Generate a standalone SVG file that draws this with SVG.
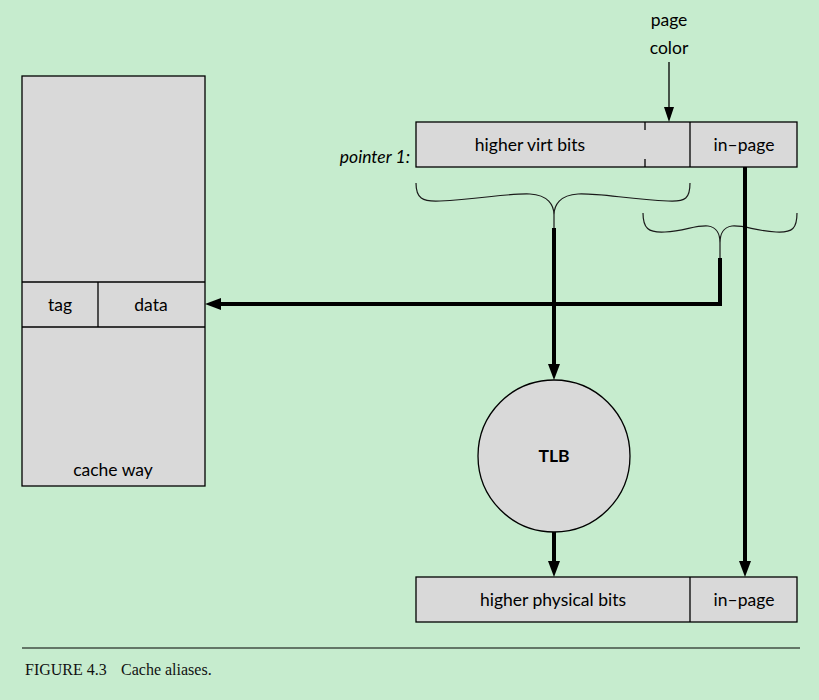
<svg xmlns="http://www.w3.org/2000/svg" width="819" height="700" viewBox="0 0 819 700">
<style>
.box{fill:#d9d9d9;stroke:#000;stroke-width:1.3}
.t{font-family:Lato,"Liberation Sans",sans-serif;font-size:17.5px;fill:#000;text-anchor:middle}
.b{font-weight:bold}
.thin{fill:none;stroke:#1a1a1a;stroke-width:1.2}
.thick{fill:none;stroke:#000;stroke-width:4}
.cap{font-family:"Liberation Serif",serif;font-size:16px;fill:#111}
.ah{fill:#000}
</style>
<rect width="819" height="700" fill="#c6ecce"/>
<g id="cache-way">
<rect class="box" x="22" y="76" width="183" height="410"/>
<line x1="22" y1="282" x2="205" y2="282" stroke="#000" stroke-width="1.3"/>
<line x1="22" y1="327" x2="205" y2="327" stroke="#000" stroke-width="1.3"/>
<line x1="98" y1="282" x2="98" y2="327" stroke="#000" stroke-width="1.3"/>
<text class="t" x="60" y="311">tag</text>
<text class="t" x="151" y="311">data</text>
<text class="t" x="113" y="476">cache way</text>
</g>
<g id="virtual-address">
<rect class="box" x="416" y="122" width="381" height="45"/>
<line x1="690" y1="122" x2="690" y2="167" stroke="#000" stroke-width="1.3"/>
<line x1="645" y1="122" x2="645" y2="130" stroke="#000" stroke-width="1.3"/>
<line x1="645" y1="159" x2="645" y2="167" stroke="#000" stroke-width="1.3"/>
<text class="t" x="530" y="151">higher virt bits</text>
<text class="t" x="744" y="151">in–page</text>
<text class="t" x="410" y="163" style="text-anchor:end;font-style:italic">pointer 1:</text>
</g>
<g id="page-color">
<text class="t" x="669" y="26">page</text>
<text class="t" x="669" y="54">color</text>
</g>
<g id="tlb">
<circle cx="554" cy="456" r="76" fill="#d9d9d9" stroke="#000" stroke-width="1.3"/>
<text class="t b" x="554" y="462">TLB</text>
</g>
<g id="physical-address">
<rect class="box" x="416" y="577" width="381" height="45"/>
<line x1="690" y1="577" x2="690" y2="622" stroke="#000" stroke-width="1.3"/>
<text class="t" x="553" y="606">higher physical bits</text>
<text class="t" x="744" y="606">in–page</text>
</g>
<g id="connectors">
<line x1="669" y1="62" x2="669" y2="110" stroke="#000" stroke-width="1.3"/>
<path class="ah" d="M664,107 L674,107 L669,122 Z"/>
<path class="thin" d="M416,183 C416,198 422,202 440,201 C480,199 510,193 530,194 C548,195 554,205 554,215 L554,228 M554,215 C554,205 560,195 578,194 C598,193 628,199 668,201 C686,202 690,198 690,183"/>
<path class="thin" d="M643,213 C643,228 648,233 665,232 C685,231 695,225 708,226 C717,227 720,235 720,243 L720,258 M720,243 C720,235 723,227 732,226 C745,225 755,231 776,232 C793,233 797,228 797,213"/>
<line class="thick" x1="554" y1="228" x2="554" y2="366"/>
<path class="ah" d="M548,364 L560,364 L554,380 Z"/>
<line class="thick" x1="554" y1="532" x2="554" y2="563"/>
<path class="ah" d="M548,561 L560,561 L554,577 Z"/>
<line class="thick" x1="745" y1="167" x2="745" y2="563"/>
<path class="ah" d="M739,561 L751,561 L745,577 Z"/>
<polyline class="thick" points="720,258 720,304 219,304"/>
<path class="ah" d="M221,298 L221,310 L205,304 Z"/>
</g>
<g id="caption">
<line x1="22" y1="648" x2="800" y2="648" stroke="#000" stroke-width="1.2"/>
<text class="cap" x="25" y="675">FIGURE 4.3</text>
<text class="cap" x="121" y="675">Cache aliases.</text>
</g>
</svg>
